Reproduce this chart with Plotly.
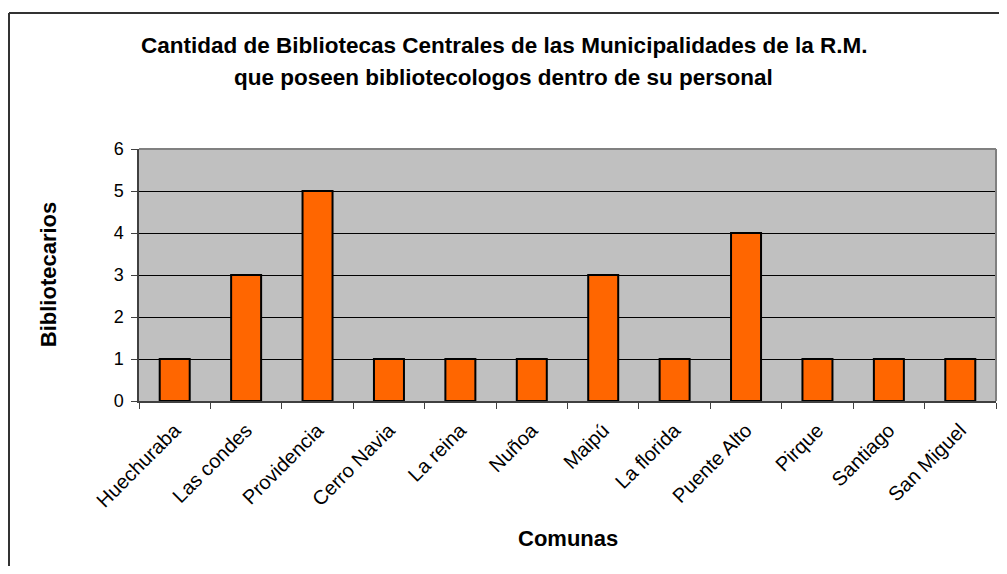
import plotly.graph_objects as go

comunas = ["Huechuraba", "Las condes", "Providencia", "Cerro Navia", "La reina", "Nuñoa",
           "Maipú", "La florida", "Puente Alto", "Pirque", "Santiago", "San Miguel"]
bibliotecarios = [1, 3, 5, 1, 1, 1, 3, 1, 4, 1, 1, 1]

title_line1 = "Cantidad de Bibliotecas Centrales de las Municipalidades de la R.M."
title_line2 = "que poseen bibliotecologos dentro de su personal"
x_title = "Comunas"
y_title = "Bibliotecarios"

# page offset (default body margin) compensation
OFF = 8
W, H = 1007 - 2 * OFF, 574 - 2 * OFF
# plot area in screen pixels
SL, SR, ST, SB = 139, 996, 149, 401
L, R, T, B = SL - OFF, SR - OFF, ST - OFF, SB - OFF
pw, ph = R - L, B - T

def px(x):  # screen x -> paper
    return (x - OFF - L) / pw

def py(y):  # screen y -> paper
    return (B - (y - OFF)) / ph

FONT = "Arial, Liberation Sans, sans-serif"

fig = go.Figure(go.Bar(
    x=comunas, y=bibliotecarios,
    marker=dict(color="#FF6600", line=dict(color="black", width=2)),
))

fig.update_layout(
    width=W, height=H,
    margin=dict(l=L, r=W - R, t=T, b=H - B, autoexpand=False),
    paper_bgcolor="white", plot_bgcolor="#C0C0C0",
    bargap=0.58, showlegend=False,
    font=dict(family=FONT, color="black"),
)
fig.update_xaxes(
    type="category", tickson="boundaries", ticks="outside", ticklen=6, tickcolor="#404040",
    tickangle=-45, tickfont=dict(size=20, family=FONT, color="black"), ticklabelstandoff=8,
    showline=True, linecolor="#404040", linewidth=1.5, showgrid=False, automargin=False,
)
fig.update_yaxes(
    range=[0, 6], dtick=1, ticks="outside", ticklen=6, tickcolor="#404040",
    tickfont=dict(size=18, family=FONT, color="black"), ticklabelstandoff=4,
    showline=True, linecolor="#404040", linewidth=1.5,
    showgrid=True, gridcolor="black", gridwidth=1, zeroline=False, automargin=False,
)

shapes = [
    # outer chart frame (only top & left edges are inside the picture)
    dict(type="line", xref="paper", yref="paper", x0=px(9), x1=px(1010), y0=py(13), y1=py(13),
         line=dict(color="#333333", width=2), layer="above"),
    dict(type="line", xref="paper", yref="paper", x0=px(9), x1=px(9), y0=py(13), y1=py(580),
         line=dict(color="#333333", width=2), layer="above"),
    # plot area top and right borders in gray
    dict(type="line", xref="paper", yref="paper", x0=0, x1=1, y0=1, y1=1,
         line=dict(color="#808080", width=2), layer="above"),
    dict(type="line", xref="paper", yref="paper", x0=1, x1=1, y0=0, y1=1,
         line=dict(color="#808080", width=2), layer="above"),
]

annotations = [
    dict(text="<b>%s</b>" % title_line1, x=px(503.5), y=py(46), xref="paper", yref="paper",
         showarrow=False, xanchor="center", yanchor="middle", font=dict(size=22.5, family=FONT)),
    dict(text="<b>%s</b>" % title_line2, x=px(503.5), y=py(78), xref="paper", yref="paper",
         showarrow=False, xanchor="center", yanchor="middle", font=dict(size=22.5, family=FONT)),
    dict(text="<b>%s</b>" % x_title, x=px(568), y=py(538), xref="paper", yref="paper",
         showarrow=False, xanchor="center", yanchor="middle", font=dict(size=22, family=FONT)),
    dict(text="<b>%s</b>" % y_title, x=px(48.7), y=py(274.5), xref="paper", yref="paper",
         showarrow=False, xanchor="center", yanchor="middle", textangle=-90,
         font=dict(size=22, family=FONT)),
]
fig.update_layout(shapes=shapes, annotations=annotations)

fig.write_html("out.html")
